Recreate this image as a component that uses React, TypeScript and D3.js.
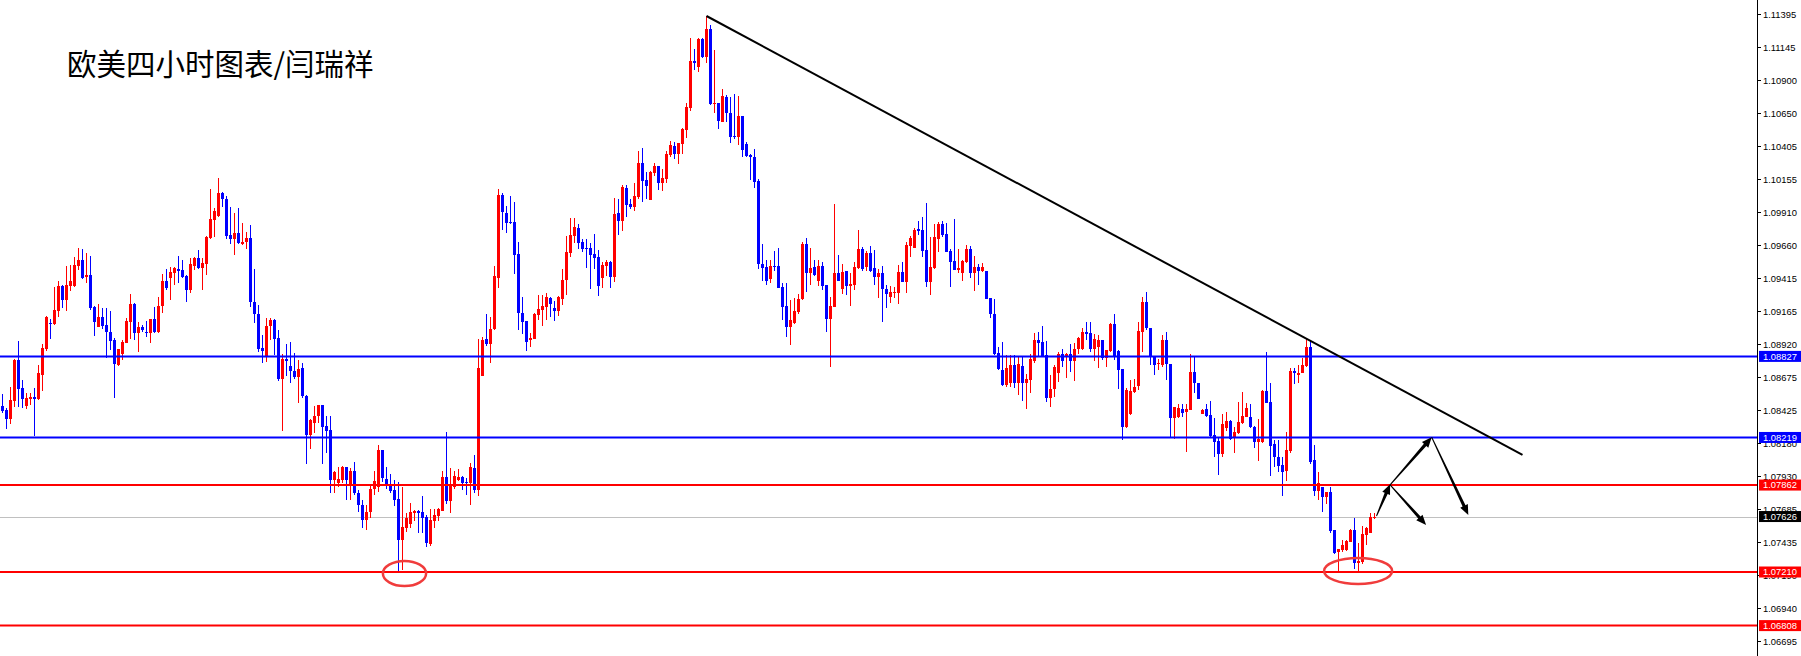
import { useEffect, useRef } from 'react';
import * as d3 from 'd3';

// EURUSD 4H candles (oldest first)
const open = [
  1.08455, 1.08425, 1.08358, 1.08493, 1.08800, 1.08590, 1.08455, 1.08508, 1.08523, 1.08508,
  1.08688, 1.08883, 1.09078, 1.09070, 1.09168, 1.09355, 1.09250, 1.09355, 1.09355, 1.09505,
  1.09550, 1.09423, 1.09438, 1.09198, 1.09048, 1.09123, 1.09063, 1.09010, 1.08950, 1.08763,
  1.08845, 1.08928, 1.09085, 1.09220, 1.09003, 1.09048, 1.09010, 1.09003, 1.09108, 1.09010,
  1.09205, 1.09393, 1.09415, 1.09453, 1.09483, 1.09475, 1.09430, 1.09325, 1.09505, 1.09565,
  1.09490, 1.09520, 1.09715, 1.09850, 1.09880, 1.10053, 1.10008, 1.09738, 1.09708, 1.09753,
  1.09670, 1.09685, 1.09715, 1.09235, 1.09145, 1.08890, 1.08830, 1.09055, 1.09100, 1.08965,
  1.08658, 1.08808, 1.08755, 1.08718, 1.08673, 1.08740, 1.08530, 1.08238, 1.08328, 1.08380,
  1.08463, 1.08305, 1.08275, 1.07900, 1.07878, 1.07900, 1.07998, 1.07870, 1.07968, 1.07803,
  1.07713, 1.07600, 1.07660, 1.07833, 1.07848, 1.08125, 1.07908, 1.07870, 1.07825, 1.07758,
  1.07450, 1.07540, 1.07570, 1.07653, 1.07668, 1.07660, 1.07623, 1.07420, 1.07593, 1.07630,
  1.07668, 1.07923, 1.07743, 1.07848, 1.07900, 1.07923, 1.07885, 1.07878, 1.07990, 1.07825,
  1.08680, 1.08958, 1.08920, 1.09033, 1.09415, 1.10038, 1.09903, 1.09835, 1.09835, 1.09595,
  1.09153, 1.09093, 1.08950, 1.08958, 1.09138, 1.09175, 1.09198, 1.09265, 1.09190, 1.09168,
  1.09258, 1.09400, 1.09603, 1.09730, 1.09790, 1.09685, 1.09640, 1.09640, 1.09595, 1.09573,
  1.09415, 1.09505, 1.09535, 1.09423, 1.09903, 1.09843, 1.10090, 1.09970, 1.09948, 1.10023,
  1.10278, 1.10150, 1.10000, 1.10203, 1.10255, 1.10128, 1.10158, 1.10338, 1.10405, 1.10345,
  1.10420, 1.10525, 1.10690, 1.11043, 1.10998, 1.11208, 1.11073, 1.11283, 1.10720, 1.10728,
  1.10585, 1.10773, 1.10653, 1.10480, 1.10473, 1.10630, 1.10420, 1.10338, 1.10323, 1.10143,
  1.09520, 1.09498, 1.09408, 1.09505, 1.09505, 1.09348, 1.09205, 1.09048, 1.09078, 1.09160,
  1.09258, 1.09670, 1.09453, 1.09498, 1.09393, 1.09505, 1.09363, 1.09108, 1.09198, 1.09453,
  1.09333, 1.09468, 1.09355, 1.09363, 1.09490, 1.09633, 1.09498, 1.09603, 1.09490, 1.09423,
  1.09453, 1.09333, 1.09273, 1.09303, 1.09303, 1.09460, 1.09385, 1.09655, 1.09640, 1.09783,
  1.09775, 1.09625, 1.09385, 1.09490, 1.09708, 1.09820, 1.09745, 1.09618, 1.09543, 1.09475,
  1.09453, 1.09535, 1.09633, 1.09453, 1.09498, 1.09468, 1.09468, 1.09265, 1.09145, 1.08853,
  1.08725, 1.08613, 1.08628, 1.08763, 1.08628, 1.08755, 1.08628, 1.08650, 1.08793, 1.08950,
  1.08935, 1.08838, 1.08515, 1.08583, 1.08703, 1.08845, 1.08823, 1.08845, 1.08793, 1.08883,
  1.08883, 1.09010, 1.09003, 1.08883, 1.08898, 1.08950, 1.08815, 1.08868, 1.09070, 1.08868,
  1.08733, 1.08298, 1.08395, 1.08560, 1.08605, 1.09010, 1.09235, 1.09040, 1.08823, 1.08770,
  1.08763, 1.08950, 1.08770, 1.08365, 1.08373, 1.08433, 1.08410, 1.08425, 1.08710, 1.08628,
  1.08395, 1.08433, 1.08388, 1.08238, 1.08193, 1.08095, 1.08290, 1.08343, 1.08223, 1.08253,
  1.08328, 1.08373, 1.08373, 1.08298, 1.08185, 1.08185, 1.08568, 1.08485, 1.08170, 1.08073,
  1.08013, 1.07968, 1.08118, 1.08718, 1.08688, 1.08703, 1.08755, 1.08898, 1.08050, 1.07818,
  1.07848, 1.07773, 1.07810, 1.07525, 1.07360, 1.07375, 1.07375, 1.07435, 1.07525, 1.07278,
  1.07285, 1.07488, 1.07503, 1.07615,
];

const high = [
  1.08545, 1.08440, 1.08598, 1.08808, 1.08943, 1.08650, 1.08553, 1.08553, 1.08590, 1.08763,
  1.08920, 1.09130, 1.09108, 1.09348, 1.09393, 1.09363, 1.09505, 1.09513, 1.09573, 1.09640,
  1.09633, 1.09603, 1.09580, 1.09205, 1.09220, 1.09190, 1.09190, 1.09168, 1.08965, 1.08883,
  1.08950, 1.09115, 1.09295, 1.09228, 1.09085, 1.09063, 1.09093, 1.09108, 1.09198, 1.09273,
  1.09445, 1.09483, 1.09498, 1.09498, 1.09580, 1.09550, 1.09438, 1.09565, 1.09573, 1.09625,
  1.09565, 1.09730, 1.10083, 1.09940, 1.10165, 1.10060, 1.10030, 1.09948, 1.09903, 1.09940,
  1.09828, 1.09760, 1.09813, 1.09483, 1.09213, 1.08988, 1.09115, 1.09115, 1.09108, 1.09025,
  1.08845, 1.08920, 1.08935, 1.08853, 1.08800, 1.08778, 1.08538, 1.08358, 1.08455, 1.08463,
  1.08463, 1.08380, 1.08380, 1.07968, 1.07998, 1.08005, 1.07998, 1.07990, 1.08035, 1.07825,
  1.07750, 1.07713, 1.07863, 1.07968, 1.08163, 1.08125, 1.07998, 1.07945, 1.07900, 1.07885,
  1.07848, 1.07653, 1.07728, 1.07675, 1.07675, 1.07780, 1.07638, 1.07683, 1.07683, 1.07690,
  1.07968, 1.08260, 1.07990, 1.07968, 1.07983, 1.07930, 1.07915, 1.08028, 1.08088, 1.08958,
  1.08973, 1.09145, 1.09123, 1.09505, 1.10083, 1.10053, 1.09955, 1.10030, 1.09985, 1.09685,
  1.09273, 1.09093, 1.09003, 1.09153, 1.09288, 1.09288, 1.09303, 1.09273, 1.09243, 1.09280,
  1.09483, 1.09730, 1.09865, 1.09865, 1.09820, 1.09708, 1.09708, 1.09678, 1.09745, 1.09625,
  1.09535, 1.09550, 1.09543, 1.10015, 1.10008, 1.10113, 1.10113, 1.10008, 1.10128, 1.10368,
  1.10390, 1.10210, 1.10218, 1.10278, 1.10255, 1.10233, 1.10368, 1.10443, 1.10435, 1.10428,
  1.10540, 1.10728, 1.11215, 1.11133, 1.11215, 1.11215, 1.11380, 1.11313, 1.11125, 1.10728,
  1.10833, 1.10788, 1.10773, 1.10795, 1.10780, 1.10630, 1.10435, 1.10345, 1.10383, 1.10158,
  1.09670, 1.09550, 1.09550, 1.09618, 1.09640, 1.09378, 1.09378, 1.09250, 1.09265, 1.09295,
  1.09685, 1.09715, 1.09640, 1.09550, 1.09550, 1.09535, 1.09363, 1.09273, 1.09970, 1.09588,
  1.09520, 1.09468, 1.09453, 1.09535, 1.09775, 1.09648, 1.09618, 1.09655, 1.09625, 1.09483,
  1.09505, 1.09363, 1.09355, 1.09348, 1.09513, 1.09535, 1.09685, 1.09730, 1.09790, 1.09843,
  1.09873, 1.09978, 1.09723, 1.09820, 1.09835, 1.09843, 1.09828, 1.09633, 1.09858, 1.09633,
  1.09550, 1.09663, 1.09655, 1.09580, 1.09520, 1.09528, 1.09468, 1.09265, 1.09258, 1.08898,
  1.08935, 1.08838, 1.08838, 1.08838, 1.08823, 1.08823, 1.08695, 1.08845, 1.09003, 1.09010,
  1.09055, 1.08943, 1.08688, 1.08763, 1.08860, 1.08883, 1.08853, 1.08920, 1.08928, 1.08973,
  1.09040, 1.09085, 1.09085, 1.08995, 1.08988, 1.08950, 1.08875, 1.09078, 1.09145, 1.08875,
  1.08733, 1.08590, 1.08650, 1.08658, 1.09085, 1.09273, 1.09310, 1.09040, 1.08830, 1.08808,
  1.08988, 1.09010, 1.08770, 1.08448, 1.08470, 1.08470, 1.08470, 1.08845, 1.08823, 1.08628,
  1.08433, 1.08470, 1.08493, 1.08365, 1.08223, 1.08395, 1.08410, 1.08350, 1.08298, 1.08485,
  1.08560, 1.08478, 1.08470, 1.08305, 1.08358, 1.08575, 1.08860, 1.08628, 1.08200, 1.08200,
  1.08073, 1.08260, 1.08740, 1.08740, 1.08763, 1.08815, 1.08958, 1.08950, 1.08163, 1.07960,
  1.07848, 1.07810, 1.07848, 1.07525, 1.07383, 1.07450, 1.07450, 1.07533, 1.07615, 1.07428,
  1.07555, 1.07548, 1.07653, 1.07653,
];

const low = [
  1.08403, 1.08283, 1.08320, 1.08448, 1.08448, 1.08440, 1.08433, 1.08463, 1.08230, 1.08500,
  1.08568, 1.08868, 1.08958, 1.09063, 1.09123, 1.09190, 1.09168, 1.09318, 1.09348, 1.09475,
  1.09408, 1.09378, 1.09175, 1.08980, 1.09048, 1.09033, 1.08815, 1.08875, 1.08515, 1.08755,
  1.08800, 1.08928, 1.08958, 1.08950, 1.08860, 1.09010, 1.08973, 1.08928, 1.09003, 1.09003,
  1.09153, 1.09325, 1.09250, 1.09363, 1.09378, 1.09415, 1.09235, 1.09303, 1.09475, 1.09483,
  1.09325, 1.09438, 1.09708, 1.09723, 1.09873, 1.09948, 1.09708, 1.09670, 1.09588, 1.09670,
  1.09663, 1.09633, 1.09198, 1.09078, 1.08860, 1.08778, 1.08785, 1.08950, 1.08838, 1.08643,
  1.08268, 1.08680, 1.08628, 1.08658, 1.08478, 1.08515, 1.08020, 1.08133, 1.08253, 1.08328,
  1.08020, 1.08103, 1.07803, 1.07803, 1.07848, 1.07878, 1.07750, 1.07750, 1.07788, 1.07660,
  1.07540, 1.07525, 1.07615, 1.07788, 1.07810, 1.07885, 1.07833, 1.07803, 1.07705, 1.07210,
  1.07225, 1.07510, 1.07540, 1.07593, 1.07503, 1.07503, 1.07398, 1.07405, 1.07540, 1.07593,
  1.07668, 1.07720, 1.07653, 1.07833, 1.07893, 1.07825, 1.07788, 1.07713, 1.07803, 1.07780,
  1.08680, 1.08905, 1.08778, 1.09025, 1.09340, 1.09775, 1.09753, 1.09820, 1.09445, 1.09025,
  1.08995, 1.08868, 1.08898, 1.08958, 1.09100, 1.09055, 1.09100, 1.09123, 1.09093, 1.09130,
  1.09213, 1.09288, 1.09573, 1.09678, 1.09633, 1.09610, 1.09490, 1.09333, 1.09483, 1.09280,
  1.09340, 1.09430, 1.09340, 1.09385, 1.09738, 1.09768, 1.09873, 1.09933, 1.09918, 1.10008,
  1.09985, 1.10008, 1.10000, 1.10180, 1.10075, 1.10068, 1.10128, 1.10323, 1.10308, 1.10270,
  1.10345, 1.10465, 1.10668, 1.10975, 1.10960, 1.11065, 1.11028, 1.10713, 1.10653, 1.10533,
  1.10585, 1.10585, 1.10428, 1.10458, 1.10413, 1.10323, 1.10323, 1.10150, 1.10090, 1.09483,
  1.09393, 1.09363, 1.09378, 1.09468, 1.09340, 1.09100, 1.08973, 1.08913, 1.09070, 1.09145,
  1.09250, 1.09310, 1.09363, 1.09430, 1.09355, 1.09325, 1.09010, 1.08748, 1.09198, 1.09393,
  1.09295, 1.09288, 1.09205, 1.09325, 1.09483, 1.09468, 1.09468, 1.09460, 1.09363, 1.09265,
  1.09085, 1.09190, 1.09228, 1.09265, 1.09220, 1.09385, 1.09303, 1.09573, 1.09640, 1.09738,
  1.09573, 1.09348, 1.09288, 1.09483, 1.09610, 1.09723, 1.09610, 1.09348, 1.09475, 1.09453,
  1.09393, 1.09528, 1.09415, 1.09318, 1.09363, 1.09460, 1.09258, 1.09115, 1.08838, 1.08725,
  1.08605, 1.08598, 1.08598, 1.08590, 1.08538, 1.08493, 1.08433, 1.08553, 1.08778, 1.08823,
  1.08823, 1.08485, 1.08448, 1.08523, 1.08635, 1.08748, 1.08665, 1.08710, 1.08643, 1.08845,
  1.08875, 1.08950, 1.08860, 1.08793, 1.08740, 1.08800, 1.08748, 1.08860, 1.08800, 1.08583,
  1.08200, 1.08290, 1.08388, 1.08553, 1.08575, 1.08860, 1.09025, 1.08763, 1.08688, 1.08725,
  1.08748, 1.08650, 1.08223, 1.08208, 1.08365, 1.08373, 1.08110, 1.08425, 1.08553, 1.08508,
  1.08395, 1.08373, 1.08223, 1.08073, 1.07938, 1.08073, 1.08268, 1.08200, 1.08103, 1.08245,
  1.08320, 1.08373, 1.08290, 1.08140, 1.08043, 1.08178, 1.08478, 1.07930, 1.07998, 1.07960,
  1.07780, 1.07893, 1.08103, 1.08620, 1.08628, 1.08703, 1.08748, 1.08020, 1.07780, 1.07750,
  1.07660, 1.07720, 1.07503, 1.07345, 1.07210, 1.07360, 1.07368, 1.07435, 1.07233, 1.07210,
  1.07270, 1.07413, 1.07503, 1.07608,
];

const close = [
  1.08418, 1.08358, 1.08500, 1.08800, 1.08583, 1.08508, 1.08515, 1.08523, 1.08508, 1.08703,
  1.08890, 1.09123, 1.09070, 1.09175, 1.09355, 1.09250, 1.09363, 1.09393, 1.09513, 1.09550,
  1.09415, 1.09438, 1.09190, 1.09085, 1.09123, 1.09055, 1.09010, 1.08943, 1.08770, 1.08883,
  1.08935, 1.09093, 1.09220, 1.09003, 1.09048, 1.09025, 1.09003, 1.09108, 1.09010, 1.09205,
  1.09393, 1.09340, 1.09460, 1.09490, 1.09468, 1.09423, 1.09325, 1.09520, 1.09565, 1.09490,
  1.09528, 1.09723, 1.09858, 1.09918, 1.10053, 1.10008, 1.09730, 1.09708, 1.09753, 1.09678,
  1.09685, 1.09715, 1.09235, 1.09145, 1.08883, 1.08868, 1.09055, 1.09100, 1.08958, 1.08658,
  1.08808, 1.08793, 1.08718, 1.08673, 1.08733, 1.08530, 1.08238, 1.08350, 1.08380, 1.08463,
  1.08298, 1.08268, 1.07900, 1.07960, 1.07908, 1.07998, 1.07900, 1.07968, 1.07803, 1.07713,
  1.07600, 1.07660, 1.07833, 1.07893, 1.08125, 1.07915, 1.07863, 1.07818, 1.07750, 1.07450,
  1.07548, 1.07615, 1.07660, 1.07668, 1.07653, 1.07615, 1.07428, 1.07600, 1.07638, 1.07683,
  1.07923, 1.07743, 1.07855, 1.07930, 1.07923, 1.07878, 1.07878, 1.07998, 1.07825, 1.08740,
  1.08950, 1.08920, 1.09033, 1.09430, 1.10038, 1.09910, 1.09828, 1.09828, 1.09588, 1.09153,
  1.09085, 1.08935, 1.08965, 1.09145, 1.09183, 1.09205, 1.09273, 1.09220, 1.09168, 1.09273,
  1.09400, 1.09610, 1.09738, 1.09798, 1.09678, 1.09633, 1.09633, 1.09588, 1.09565, 1.09355,
  1.09513, 1.09535, 1.09423, 1.09895, 1.09843, 1.10098, 1.09963, 1.09948, 1.10030, 1.10278,
  1.10143, 1.10105, 1.10210, 1.10255, 1.10128, 1.10165, 1.10345, 1.10413, 1.10345, 1.10428,
  1.10533, 1.10698, 1.11043, 1.11028, 1.11208, 1.11073, 1.11283, 1.10720, 1.10728, 1.10593,
  1.10780, 1.10653, 1.10473, 1.10473, 1.10630, 1.10375, 1.10330, 1.10323, 1.10135, 1.09520,
  1.09490, 1.09393, 1.09505, 1.09498, 1.09340, 1.09198, 1.09048, 1.09100, 1.09168, 1.09258,
  1.09670, 1.09453, 1.09490, 1.09438, 1.09505, 1.09355, 1.09108, 1.09205, 1.09453, 1.09393,
  1.09460, 1.09355, 1.09370, 1.09498, 1.09633, 1.09483, 1.09603, 1.09468, 1.09423, 1.09453,
  1.09333, 1.09295, 1.09310, 1.09310, 1.09460, 1.09385, 1.09663, 1.09715, 1.09775, 1.09768,
  1.09618, 1.09385, 1.09498, 1.09723, 1.09820, 1.09738, 1.09610, 1.09535, 1.09475, 1.09490,
  1.09543, 1.09633, 1.09453, 1.09498, 1.09468, 1.09498, 1.09258, 1.09145, 1.08845, 1.08733,
  1.08613, 1.08740, 1.08763, 1.08628, 1.08770, 1.08628, 1.08658, 1.08808, 1.08950, 1.08928,
  1.08823, 1.08515, 1.08583, 1.08748, 1.08845, 1.08793, 1.08845, 1.08793, 1.08883, 1.08965,
  1.09010, 1.08995, 1.08883, 1.08958, 1.08950, 1.08815, 1.08875, 1.09070, 1.08830, 1.08725,
  1.08298, 1.08575, 1.08568, 1.08598, 1.09018, 1.09235, 1.09040, 1.08823, 1.08763, 1.08778,
  1.08950, 1.08770, 1.08365, 1.08448, 1.08440, 1.08403, 1.08433, 1.08710, 1.08628, 1.08508,
  1.08425, 1.08380, 1.08230, 1.08185, 1.08095, 1.08320, 1.08343, 1.08208, 1.08260, 1.08335,
  1.08380, 1.08440, 1.08298, 1.08185, 1.08208, 1.08568, 1.08478, 1.08155, 1.08073, 1.08005,
  1.07960, 1.08125, 1.08718, 1.08703, 1.08703, 1.08763, 1.08898, 1.08035, 1.07818, 1.07878,
  1.07773, 1.07810, 1.07518, 1.07353, 1.07383, 1.07413, 1.07443, 1.07525, 1.07278, 1.07293,
  1.07495, 1.07540, 1.07623, 1.07626,
];

const priceTicks = [
  1.11395, 1.11145, 1.10900, 1.10650, 1.10405, 1.10155, 1.09910, 1.09660, 1.09415, 1.09165,
  1.08920, 1.08675, 1.08425, 1.08180, 1.07930, 1.07685, 1.07435, 1.07190, 1.06940, 1.06695,
];

const blueLevels = [1.08827, 1.08219];
const redLevels = [1.07862, 1.07210, 1.06808];
const bidPrice = 1.07626;

const title = '欧美四小时图表/闫瑞祥';

// drawn objects, anchored as [bar index, price]
const trendLine: [number, number][] = [[176, 1.11380], [380, 1.08088]];
const arrows: [number, number][][] = [
  [[343.5, 1.07630], [346.9, 1.07868]],
  [[346.9, 1.07863], [357.3, 1.08220]],
  [[346.9, 1.07863], [355.9, 1.07563]],
  [[357.3, 1.08220], [366.45, 1.07638]],
];
const circles = [
  { bar: 100.5, price: 1.07199, halfBars: 5.4, halfPrice: 0.00094 },
  { bar: 338.9, price: 1.07218, halfBars: 8.5, halfPrice: 0.000975 },
];

const W = 1801;
const H = 656;
const AXIS_X = 1757;
const UP = '#ff0000';
const DOWN = '#0000ff';

const App = () => {
  const svgRef = useRef<SVGSVGElement>(null);

  useEffect(() => {
    document.body.style.margin = '0';
    if (!svgRef.current) return;
    const svg = d3.select(svgRef.current);
    svg.selectAll('*').remove();

    const n = open.length;
    const x = d3.scaleLinear().domain([0, n - 1]).range([2.5, 2.5 + 4 * (n - 1)]);
    const y = d3.scaleLinear().domain([1.115, 1.115 - H * 0.000075]).range([0, H]);

    svg.append('rect').attr('width', W).attr('height', H).attr('fill', '#ffffff');

    // title
    svg.append('text')
      .attr('x', 67).attr('y', 75)
      .attr('font-family', '"Noto Sans CJK SC", "Noto Sans", sans-serif')
      .attr('font-size', 29.5)
      .attr('fill', '#000')
      .text(title);

    // bid line
    svg.append('line')
      .attr('x1', 0).attr('x2', AXIS_X)
      .attr('y1', Math.round(y(bidPrice)) + 0.5).attr('y2', Math.round(y(bidPrice)) + 0.5)
      .attr('stroke', '#c0c0c0').attr('stroke-width', 1)
      .attr('shape-rendering', 'crispEdges');

    // candles
    const idx = d3.range(n);
    const colorOf = (i: number) => (close[i] >= open[i] ? UP : DOWN);
    const g = svg.append('g').attr('shape-rendering', 'crispEdges');
    g.selectAll('line.wick')
      .data(idx)
      .enter()
      .append('line')
      .attr('class', 'wick')
      .attr('x1', d => x(d)).attr('x2', d => x(d))
      .attr('y1', d => y(high[d])).attr('y2', d => y(low[d]))
      .attr('stroke', d => colorOf(d)).attr('stroke-width', 1);
    g.selectAll('rect.body')
      .data(idx)
      .enter()
      .append('rect')
      .attr('class', 'body')
      .attr('x', d => x(d) - 1.5)
      .attr('width', 3)
      .attr('y', d => y(Math.max(open[d], close[d])))
      .attr('height', d => Math.max(1, y(Math.min(open[d], close[d])) - y(Math.max(open[d], close[d]))))
      .attr('fill', d => colorOf(d));

    // horizontal levels
    const levelG = svg.append('g');
    const drawLevel = (p: number, color: string) => {
      levelG.append('line')
        .attr('x1', 0).attr('x2', AXIS_X)
        .attr('y1', y(p)).attr('y2', y(p))
        .attr('stroke', color).attr('stroke-width', 2);
    };
    blueLevels.forEach(p => drawLevel(p, DOWN));
    redLevels.forEach(p => drawLevel(p, UP));

    // trend line
    svg.append('line')
      .attr('x1', x(trendLine[0][0])).attr('y1', y(trendLine[0][1]))
      .attr('x2', x(trendLine[1][0])).attr('y2', y(trendLine[1][1]))
      .attr('stroke', '#000').attr('stroke-width', 2);

    // arrows: thin tail, thick end, filled head
    const arrowPoly = (a: [number, number], b: [number, number]) => {
      const x0 = x(a[0]), y0 = y(a[1]), x1 = x(b[0]), y1 = y(b[1]);
      const L = Math.hypot(x1 - x0, y1 - y0);
      const ux = (x1 - x0) / L, uy = (y1 - y0) / L;
      const nx = -uy, ny = ux;
      const hl = 10, hw = 4.2, w0 = 0.5, w1 = 1.6;
      const bx = x1 - ux * hl, by = y1 - uy * hl;
      const pts: [number, number][] = [
        [x0 + nx * w0, y0 + ny * w0],
        [bx + nx * w1, by + ny * w1],
        [bx + nx * hw, by + ny * hw],
        [x1, y1],
        [bx - nx * hw, by - ny * hw],
        [bx - nx * w1, by - ny * w1],
        [x0 - nx * w0, y0 - ny * w0],
      ];
      return pts.map(p => p.join(',')).join(' ');
    };
    svg.append('g').selectAll('polygon')
      .data(arrows)
      .enter()
      .append('polygon')
      .attr('points', d => arrowPoly(d[0] as [number, number], d[1] as [number, number]))
      .attr('fill', '#000');

    // circles around lows
    svg.append('g').selectAll('ellipse')
      .data(circles)
      .enter()
      .append('ellipse')
      .attr('cx', d => x(d.bar)).attr('cy', d => y(d.price))
      .attr('rx', d => x(d.bar + d.halfBars) - x(d.bar))
      .attr('ry', d => y(d.price - d.halfPrice) - y(d.price))
      .attr('fill', 'none')
      .attr('stroke', '#f03c3c').attr('stroke-width', 2.5);

    // price axis
    const ax = svg.append('g');
    ax.append('rect').attr('x', AXIS_X + 0.5).attr('y', 0).attr('width', W - AXIS_X).attr('height', H).attr('fill', '#fff');
    ax.append('line')
      .attr('x1', AXIS_X + 0.5).attr('x2', AXIS_X + 0.5).attr('y1', 0).attr('y2', H)
      .attr('stroke', '#000').attr('stroke-width', 1).attr('shape-rendering', 'crispEdges');
    const tickG = ax.selectAll('g.tick')
      .data(priceTicks)
      .enter()
      .append('g')
      .attr('class', 'tick')
      .attr('transform', d => `translate(0,${Math.round(y(d)) + 0.5})`);
    tickG.append('line')
      .attr('x1', AXIS_X).attr('x2', AXIS_X + 4)
      .attr('stroke', '#000').attr('shape-rendering', 'crispEdges');
    tickG.append('text')
      .attr('x', AXIS_X + 6).attr('dy', '0.35em')
      .attr('font-family', '"Liberation Sans", Arial, sans-serif')
      .attr('font-size', 9.4)
      .attr('fill', '#000')
      .text(d => d.toFixed(5));

    const tag = (p: number, color: string) => {
      const cy = y(p);
      ax.append('rect')
        .attr('x', AXIS_X + 2).attr('y', cy - 5.5).attr('width', W - AXIS_X - 2).attr('height', 11)
        .attr('fill', color);
      ax.append('text')
        .attr('x', AXIS_X + 6).attr('y', cy).attr('dy', '0.35em')
        .attr('font-family', '"Liberation Sans", Arial, sans-serif')
        .attr('font-size', 9.4)
        .attr('fill', '#fff')
        .text(p.toFixed(5));
    };
    blueLevels.forEach(p => tag(p, DOWN));
    redLevels.forEach(p => tag(p, UP));
    tag(bidPrice, '#000');
  }, []);

  return <svg ref={svgRef} width={W} height={H} style={{ display: 'block' }}></svg>;
};

export default App;
